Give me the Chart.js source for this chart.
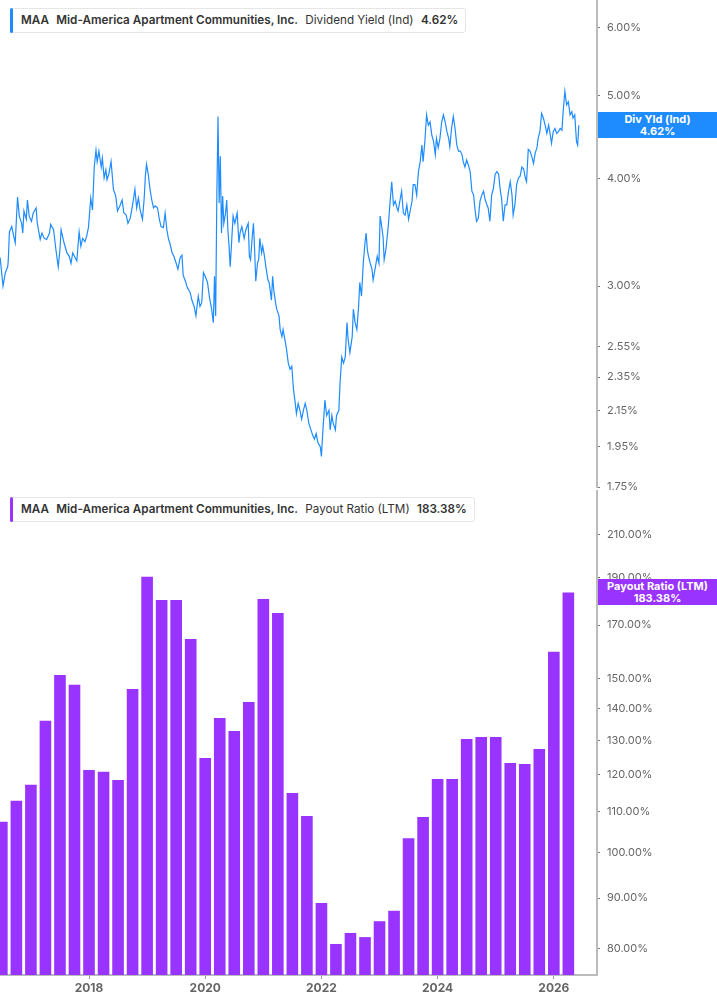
<!DOCTYPE html>
<html>
<head>
<meta charset="utf-8">
<script src="https://cdn.jsdelivr.net/npm/chart.js@4.4.1/dist/chart.umd.min.js"></script>
<style>
  html, body { margin: 0; padding: 0; background: #fff; }
  body { width: 717px; height: 1005px; position: relative; overflow: hidden; font-family: Inter, "Noto Sans", sans-serif; }
  #topChart { position: absolute; left: 0; top: 0; }
  #botChart { position: absolute; left: 0; top: 490px; }
  .legend { position: absolute; left: 10px; height: 25px; box-sizing: border-box; border: 1px solid #e6e6e6; border-radius: 3px;
            background: #fff; font-size: 11.7px; color: #333; line-height: 23px; padding: 0 7px 0 10px; white-space: nowrap; z-index: 3; }
  .legend .bar { position: absolute; left: -1px; top: -1px; bottom: -1px; width: 3px; border-radius: 2px; }
  .legend span { margin-right: 4px; }
  .legend span:last-child { margin-right: 0; }
  .legend .b { font-weight: 600; }
  .badge { position: absolute; left: 598px; width: 119px; height: 26px; color: #fff; font-weight: 700; font-size: 11px;
           line-height: 12px; text-align: center; z-index: 3; display: flex; flex-direction: column; justify-content: center; }
</style>
</head>
<body>
<canvas id="topChart" width="717" height="500"></canvas>
<canvas id="botChart" width="717" height="515"></canvas>

<div class="legend" style="top:8px">
  <div class="bar" style="background:#1e8cff"></div>
  <span class="b">MAA</span> <span class="b">Mid-America Apartment Communities, Inc.</span> <span>Dividend Yield (Ind)</span> <span class="b">4.62%</span>
</div>
<div class="legend" style="top:497px">
  <div class="bar" style="background:#9933ff"></div>
  <span class="b">MAA</span> <span class="b">Mid-America Apartment Communities, Inc.</span> <span>Payout Ratio (LTM)</span> <span class="b">183.38%</span>
</div>
<div class="badge" id="yldBadge" style="background:#1e8cff"><div>Div Yld (Ind)</div><div>4.62%</div></div>
<div class="badge" id="payBadge" style="background:#9933ff"><div>Payout Ratio (LTM)</div><div>183.38%</div></div>

<script>
// dividend yield (Ind), % - date as decimal year
const yieldDates = [
  2016.47, 2016.52, 2016.56, 2016.60, 2016.61, 2016.63, 2016.67, 2016.70, 2016.73, 2016.77, 2016.80, 2016.84, 2016.86, 2016.88,
  2016.92, 2016.94, 2016.97, 2017.01, 2017.04, 2017.09, 2017.11, 2017.16, 2017.19, 2017.23, 2017.27, 2017.32, 2017.34, 2017.39,
  2017.43, 2017.47, 2017.50, 2017.52, 2017.57, 2017.62, 2017.66, 2017.69, 2017.72, 2017.76, 2017.79, 2017.83, 2017.86, 2017.89,
  2017.93, 2017.96, 2017.99, 2018.03, 2018.06, 2018.09, 2018.12, 2018.14, 2018.17, 2018.21, 2018.23, 2018.26, 2018.29, 2018.31,
  2018.34, 2018.38, 2018.42, 2018.46, 2018.49, 2018.53, 2018.57, 2018.60, 2018.64, 2018.67, 2018.71, 2018.75, 2018.79, 2018.82,
  2018.85, 2018.88, 2018.92, 2018.95, 2018.97, 2018.99, 2019.02, 2019.05, 2019.08, 2019.11, 2019.14, 2019.18, 2019.21, 2019.24,
  2019.28, 2019.31, 2019.34, 2019.37, 2019.39, 2019.43, 2019.46, 2019.50, 2019.53, 2019.57, 2019.60, 2019.62, 2019.66, 2019.69,
  2019.74, 2019.77, 2019.81, 2019.84, 2019.88, 2019.91, 2019.94, 2019.97, 2020.00, 2020.04, 2020.07, 2020.11, 2020.14, 2020.16,
  2020.18, 2020.20, 2020.22, 2020.24, 2020.26, 2020.28, 2020.30, 2020.32, 2020.35, 2020.37, 2020.39, 2020.41, 2020.43, 2020.46,
  2020.48, 2020.51, 2020.55, 2020.58, 2020.60, 2020.63, 2020.67, 2020.70, 2020.74, 2020.76, 2020.78, 2020.81, 2020.83, 2020.85,
  2020.87, 2020.90, 2020.92, 2020.94, 2020.97, 2020.99, 2021.02, 2021.05, 2021.08, 2021.10, 2021.14, 2021.16, 2021.18, 2021.21,
  2021.23, 2021.27, 2021.29, 2021.32, 2021.34, 2021.38, 2021.40, 2021.43, 2021.46, 2021.49, 2021.52, 2021.55, 2021.57, 2021.60,
  2021.63, 2021.66, 2021.69, 2021.72, 2021.75, 2021.78, 2021.82, 2021.85, 2021.88, 2021.91, 2021.94, 2021.98, 2022.00, 2022.02,
  2022.06, 2022.09, 2022.13, 2022.15, 2022.18, 2022.20, 2022.24, 2022.26, 2022.30, 2022.32, 2022.35, 2022.38, 2022.41, 2022.44,
  2022.46, 2022.49, 2022.53, 2022.55, 2022.58, 2022.61, 2022.64, 2022.66, 2022.69, 2022.72, 2022.75, 2022.77, 2022.79, 2022.81,
  2022.84, 2022.87, 2022.89, 2022.93, 2022.96, 2022.99, 2023.01, 2023.03, 2023.06, 2023.08, 2023.11, 2023.15, 2023.18, 2023.21,
  2023.24, 2023.27, 2023.30, 2023.32, 2023.35, 2023.38, 2023.41, 2023.44, 2023.47, 2023.50, 2023.53, 2023.56, 2023.58, 2023.61,
  2023.64, 2023.67, 2023.70, 2023.73, 2023.75, 2023.78, 2023.81, 2023.84, 2023.87, 2023.90, 2023.93, 2023.96, 2023.98, 2024.01,
  2024.04, 2024.07, 2024.10, 2024.13, 2024.16, 2024.19, 2024.21, 2024.24, 2024.27, 2024.30, 2024.33, 2024.36, 2024.39, 2024.42,
  2024.44, 2024.47, 2024.50, 2024.53, 2024.56, 2024.59, 2024.62, 2024.64, 2024.67, 2024.70, 2024.73, 2024.76, 2024.79, 2024.82,
  2024.85, 2024.87, 2024.90, 2024.93, 2024.96, 2024.99, 2025.02, 2025.05, 2025.08, 2025.10, 2025.13, 2025.16, 2025.19, 2025.22,
  2025.25, 2025.28, 2025.30, 2025.33, 2025.36, 2025.39, 2025.42, 2025.45, 2025.48, 2025.51, 2025.53, 2025.56, 2025.59, 2025.62,
  2025.65, 2025.68, 2025.71, 2025.73, 2025.76, 2025.79, 2025.82, 2025.85, 2025.88, 2025.91, 2025.94, 2025.96, 2025.99, 2026.02,
  2026.05, 2026.08, 2026.11, 2026.14, 2026.16, 2026.19, 2026.22, 2026.25, 2026.28, 2026.31, 2026.33, 2026.36, 2026.39, 2026.41,
  2026.43
];
const yieldValues = [
  3.24, 3.00, 3.11, 3.16, 3.21, 3.47, 3.52, 3.44, 3.37, 3.81, 3.62, 3.55, 3.46, 3.67,
  3.59, 3.78, 3.62, 3.57, 3.65, 3.70, 3.55, 3.40, 3.46, 3.41, 3.40, 3.46, 3.54, 3.49,
  3.31, 3.16, 3.31, 3.49, 3.37, 3.28, 3.25, 3.19, 3.28, 3.24, 3.21, 3.47, 3.34, 3.41,
  3.38, 3.43, 3.51, 3.80, 3.68, 4.13, 4.32, 4.19, 4.31, 4.13, 4.23, 4.01, 4.10, 3.99,
  4.05, 4.19, 3.89, 3.82, 3.67, 3.72, 3.78, 3.65, 3.63, 3.55, 3.60, 3.73, 3.89, 3.70,
  3.80, 3.68, 3.59, 3.80, 4.03, 4.16, 4.05, 3.89, 3.78, 3.70, 3.72, 3.70, 3.59, 3.52,
  3.51, 3.65, 3.49, 3.40, 3.37, 3.28, 3.25, 3.19, 3.14, 3.24, 3.26, 3.09, 3.04, 2.99,
  2.95, 2.89, 2.84, 2.77, 2.92, 2.84, 2.87, 3.11, 3.08, 3.03, 2.92, 2.82, 2.72, 3.08,
  2.77, 3.82, 4.73, 3.75, 4.25, 3.46, 3.82, 3.55, 3.65, 3.78, 3.49, 3.34, 3.16, 3.43,
  3.62, 3.55, 3.65, 3.37, 3.46, 3.52, 3.41, 3.49, 3.55, 3.25, 3.22, 3.43, 3.55, 3.31,
  3.04, 3.19, 3.22, 3.41, 3.28, 3.34, 3.25, 3.14, 3.05, 3.03, 2.89, 3.08, 2.97, 2.87,
  2.82, 2.77, 2.67, 2.62, 2.67, 2.58, 2.53, 2.44, 2.40, 2.42, 2.27, 2.19, 2.13, 2.19,
  2.15, 2.10, 2.15, 2.19, 2.15, 2.08, 2.04, 2.01, 1.99, 2.02, 1.97, 1.95, 1.90, 2.01,
  2.21, 2.12, 2.15, 2.04, 2.12, 2.08, 2.04, 2.12, 2.15, 2.31, 2.48, 2.44, 2.48, 2.72,
  2.60, 2.51, 2.62, 2.82, 2.72, 2.67, 2.84, 3.03, 2.92, 3.19, 3.37, 3.46, 3.31, 3.25,
  3.19, 3.14, 3.05, 3.16, 3.25, 3.19, 3.62, 3.55, 3.43, 3.22, 3.31, 3.52, 3.75, 3.97,
  3.73, 3.77, 3.70, 3.67, 3.77, 3.87, 3.65, 3.63, 3.73, 3.59, 3.68, 3.77, 3.94, 3.94,
  3.83, 4.08, 4.19, 4.38, 4.19, 4.42, 4.75, 4.62, 4.66, 4.50, 4.42, 4.27, 4.46, 4.35,
  4.46, 4.66, 4.75, 4.66, 4.54, 4.46, 4.36, 4.58, 4.73, 4.58, 4.38, 4.31, 4.31, 4.27,
  4.19, 4.13, 4.21, 4.15, 4.08, 3.87, 3.83, 3.70, 3.57, 3.60, 3.77, 3.83, 3.87, 3.78,
  3.73, 3.70, 3.57, 3.83, 3.90, 4.05, 4.08, 4.05, 3.87, 3.80, 3.57, 3.73, 3.73, 3.87,
  3.97, 3.83, 3.63, 3.73, 3.94, 4.01, 4.03, 4.13, 4.11, 4.01, 3.97, 4.33, 4.31, 4.25,
  4.17, 4.29, 4.35, 4.46, 4.54, 4.77, 4.71, 4.62, 4.52, 4.62, 4.50, 4.40, 4.54, 4.58,
  4.52, 4.54, 4.58, 4.56, 4.79, 5.06, 4.88, 4.92, 4.75, 4.79, 4.71, 4.75, 4.42, 4.38,
  4.62
];
const yieldTicks = [1.75, 1.95, 2.15, 2.35, 2.55, 3, 4, 5, 6];

// payout ratio (LTM), %, one bar per quarter
const payoutQuarters = [
  '2016 Q2', '2016 Q3', '2016 Q4', '2017 Q1', '2017 Q2', '2017 Q3', '2017 Q4', '2018 Q1', '2018 Q2', '2018 Q3',
  '2018 Q4', '2019 Q1', '2019 Q2', '2019 Q3', '2019 Q4', '2020 Q1', '2020 Q2', '2020 Q3', '2020 Q4', '2021 Q1',
  '2021 Q2', '2021 Q3', '2021 Q4', '2022 Q1', '2022 Q2', '2022 Q3', '2022 Q4', '2023 Q1', '2023 Q2', '2023 Q3',
  '2023 Q4', '2024 Q1', '2024 Q2', '2024 Q3', '2024 Q4', '2025 Q1', '2025 Q2', '2025 Q3', '2025 Q4', '2026 Q1'
];
const payoutValues = [
  107.5, 112.9, 117.2, 136.0, 151.3, 147.9, 121.3, 120.8, 118.5, 146.5,
  190.2, 180.2, 180.2, 164.6, 124.7, 136.9, 132.8, 142.1, 180.6, 174.8,
  115.0, 109.0, 89.0, 80.9, 83.0, 82.2, 85.3, 87.4, 103.5, 108.7,
  118.8, 118.8, 130.4, 131.0, 131.0, 123.3, 123.0, 127.4, 159.7, 183.38
];
const payoutTicks = [80, 90, 100, 110, 120, 130, 140, 150, 170, 190, 210];

const yearTicks = [2018, 2020, 2022, 2024, 2026];
const X_MIN = 2016.468, X_MAX = 2026.743;

const BLUE = '#1e8cff', PURPLE = '#9933ff';
const FONT = 'Inter, "Noto Sans", sans-serif';

function quarterEnd(q) {
  const [y, qq] = q.split(' Q');
  return Number(y) + Number(qq) / 4;
}

function rightLogAxis(min, max, ticks) {
  return {
    type: 'logarithmic', position: 'right', min, max,
    afterBuildTicks: ax => { ax.ticks = ticks.map(v => ({ value: v })); },
    afterFit: ax => { ax.width = 120; ax.paddingTop = 0; ax.paddingBottom = 0; },
    grid: { drawOnChartArea: false, drawTicks: true, tickLength: 3, color: '#777', tickWidth: 1 },
    border: { display: true, color: '#bbb', width: 2 },
    ticks: { padding: 7, color: '#666', autoSkip: false, font: { family: FONT, size: 11 },
             callback: v => Number(v).toFixed(2) + '%' }
  };
}

const topChart = new Chart(document.getElementById('topChart'), {
  type: 'line',
  data: {
    datasets: [{
      data: yieldDates.map((d, i) => ({ x: d, y: yieldValues[i] })),
      borderColor: BLUE, borderWidth: 1.2, pointRadius: 0, tension: 0
    }]
  },
  options: {
    responsive: false, animation: false, events: [],
    layout: { padding: { left: 0, right: 0, top: 0, bottom: 13 } },
    plugins: { legend: { display: false }, tooltip: { enabled: false } },
    scales: {
      x: { type: 'linear', min: X_MIN, max: X_MAX, display: false },
      y: rightLogAxis(1.75, 6.465, yieldTicks)
    }
  }
});

const botChart = new Chart(document.getElementById('botChart'), {
  type: 'bar',
  data: {
    datasets: [{
      data: payoutQuarters.map((q, i) => ({ x: quarterEnd(q), y: payoutValues[i] })),
      backgroundColor: PURPLE, barPercentage: 0.8, categoryPercentage: 1
    }]
  },
  options: {
    responsive: false, animation: false, events: [],
    layout: { padding: 0 },
    plugins: { legend: { display: false }, tooltip: { enabled: false } },
    scales: {
      x: {
        type: 'linear', min: X_MIN, max: X_MAX, offset: false,
        afterBuildTicks: ax => { ax.ticks = yearTicks.map(v => ({ value: v })); },
        afterFit: ax => { ax.height = 30; ax.paddingLeft = 0; ax.paddingRight = 0; },
        grid: { offset: false, drawOnChartArea: false, drawTicks: true, tickLength: 4, color: '#999' },
        border: { display: true, color: '#bbb', width: 2 },
        ticks: { color: '#666', padding: 2, maxRotation: 0, autoSkip: false,
                 font: { family: FONT, size: 12, weight: 'bold' }, callback: v => String(v) }
      },
      y: rightLogAxis(75.26, 232.8, payoutTicks)
    }
  }
});

// value badges sit on the last value of each series
const yTop = topChart.scales.y.getPixelForValue(yieldValues[yieldValues.length - 1]);
document.getElementById('yldBadge').style.top = Math.round(yTop - 13) + 'px';
const yBot = botChart.scales.y.getPixelForValue(payoutValues[payoutValues.length - 1]);
document.getElementById('payBadge').style.top = Math.round(490 + yBot - 13) + 'px';
</script>
</body>
</html>
